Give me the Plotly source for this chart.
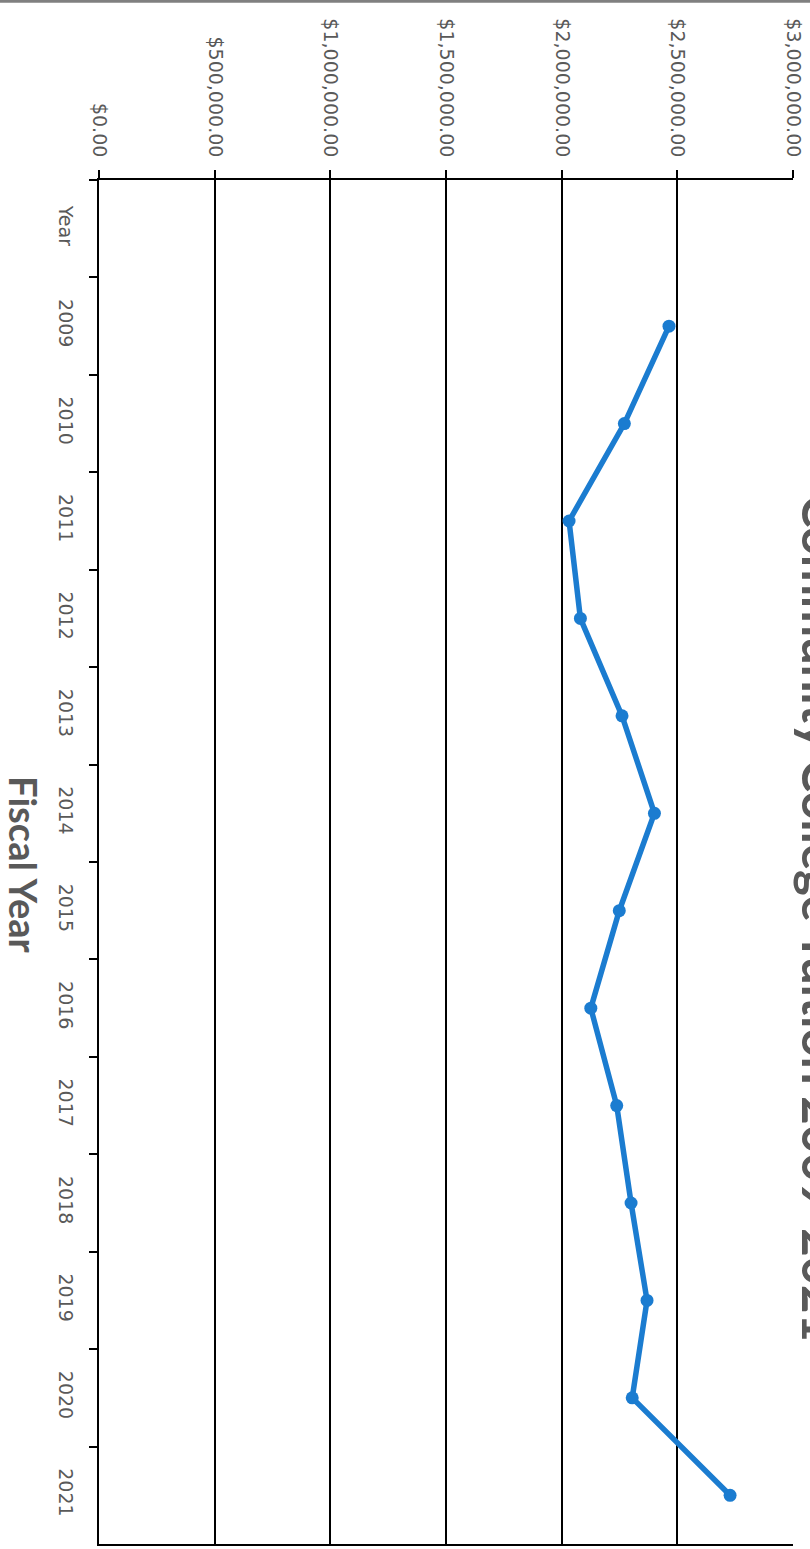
import plotly.graph_objects as go

# ---- data ----
categories = ["Year", "2009", "2010", "2011", "2012", "2013", "2014", "2015",
              "2016", "2017", "2018", "2019", "2020", "2021"]
tuition = [None, 2464000, 2271000, 2032000, 2081000, 2261000, 2401000, 2249000,
           2126000, 2238000, 2300000, 2369000, 2305000, 2728000]
value_ticks = [0, 500000, 1000000, 1500000, 2000000, 2500000, 3000000]

title_text = "Community College Tuition 2009-2021"
axis_title_text = "Fiscal Year"

W, H = 810, 1549
L, R, T, B = 99, 17, 180, 3
pw, ph = W - L - R, H - T - B

def px_x(p):
    return (p - L) / pw

def px_y(p):
    return (H - B - p) / ph

gray = "#595959"
blue = "#1b7cd0"

fig = go.Figure()
fig.add_trace(go.Scatter(
    x=tuition, y=categories, mode="lines+markers",
    line=dict(color=blue, width=5.5),
    marker=dict(color=blue, size=13),
    connectgaps=False, showlegend=False, cliponaxis=False,
))

fig.update_layout(
    width=W, height=H,
    margin=dict(l=L, r=R, t=T, b=B, pad=0),
    paper_bgcolor="white", plot_bgcolor="white",
    xaxis=dict(
        side="top", range=[0, 3000000], tickvals=value_ticks,
        tickformat="$,.2f", tickangle=90,
        showgrid=True, gridcolor="black", gridwidth=1.5,
        showline=True, linecolor="black", linewidth=2, mirror=True,
        ticks="outside", ticklen=8, tickcolor="black", tickwidth=1.5,
        tickfont=dict(family="DejaVu Sans", size=19, color=gray),
        ticklabelstandoff=6, zeroline=False,
    ),
    yaxis=dict(
        type="category", categoryorder="array", categoryarray=categories,
        range=[13.5, -0.5], tickangle=90,
        tickson="boundaries", showgrid=False,
        showline=True, linecolor="black", linewidth=2,
        ticks="outside", ticklen=8, tickcolor="black", tickwidth=1.5,
        tickfont=dict(family="DejaVu Sans", size=19, color=gray),
        ticklabelstandoff=15,
    ),
    annotations=[
        dict(text="<b>" + axis_title_text + "</b>", textangle=90,
             xref="paper", yref="paper", x=px_x(24), y=px_y(865),
             xanchor="center", yanchor="middle", showarrow=False,
             font=dict(family="Lato", size=38, color=gray)),
        dict(text="<b>" + title_text + "</b>", textangle=90,
             xref="paper", yref="paper", x=px_x(790), y=px_y(919),
             xanchor="left", yanchor="middle", showarrow=False,
             font=dict(family="Lato", size=49, color=gray)),
    ],
    shapes=[
        dict(type="line", xref="paper", yref="paper",
             x0=px_x(0), x1=px_x(W), y0=px_y(1), y1=px_y(1),
             line=dict(color="#808080", width=3)),
    ],
)

fig.write_html(
    "out.html",
    config={"displayModeBar": False},
    post_script="document.body.style.margin='0';document.body.style.overflow='hidden';",
)
